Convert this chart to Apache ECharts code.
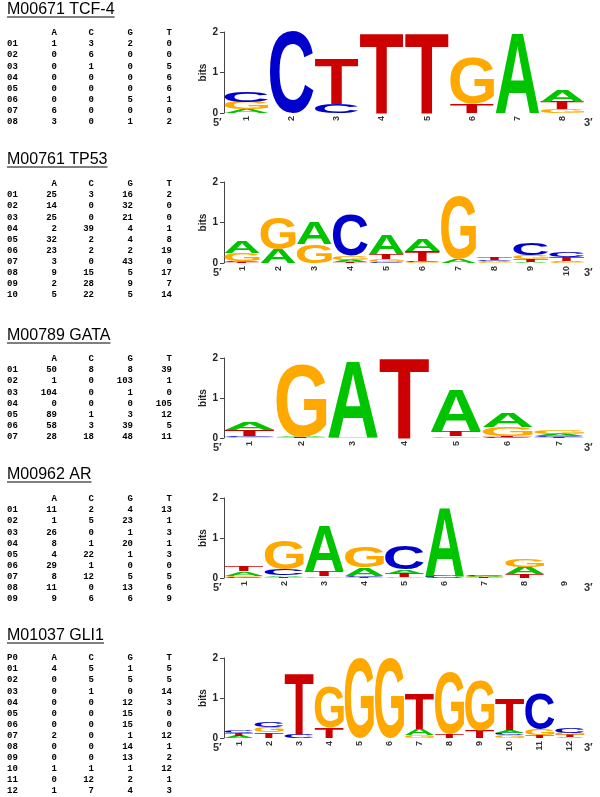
<!DOCTYPE html>
<html><head><meta charset="utf-8">
<script src="https://cdn.jsdelivr.net/npm/echarts@6/dist/echarts.min.js"></script>
<style>html,body{margin:0;padding:0;background:#fff}#c{width:600px;height:797px}</style>
</head><body><div id="c"></div>
<script>
// ---------------- DATA ----------------
const titles = ['M00671 TCF-4', 'M00761 TP53', 'M00789 GATA', 'M00962 AR', 'M01037 GLI1'];
const bases = ['A', 'C', 'G', 'T'];
const cornerLabels = ['', '', '', '', 'P0'];
const bitTicks = [0, 1, 2];

const tcf4Counts = [[1,3,2,0],[0,6,0,0],[0,1,0,5],[0,0,0,6],[0,0,0,6],[0,0,5,1],[6,0,0,0],[3,0,1,2]];
const tp53Counts = [[25,3,16,2],[14,0,32,0],[25,0,21,0],[2,39,4,1],[32,2,4,8],[23,2,2,19],[3,0,43,0],[9,15,5,17],[2,28,9,7],[5,22,5,14]];
const gataCounts = [[50,8,8,39],[1,0,103,1],[104,0,1,0],[0,0,0,105],[89,1,3,12],[58,3,39,5],[28,18,48,11]];
const arCounts = [[11,2,4,13],[1,5,23,1],[26,0,1,3],[8,1,20,1],[4,22,1,3],[29,1,0,0],[8,12,5,5],[11,0,13,6],[9,6,6,9]];
const gli1Counts = [[4,5,1,5],[0,5,5,5],[0,1,0,14],[0,0,12,3],[0,0,15,0],[0,0,15,0],[2,0,1,12],[0,0,14,1],[0,0,13,2],[1,1,1,12],[0,12,2,1],[1,7,4,3]];

const allCounts = [tcf4Counts, tp53Counts, gataCounts, arCounts, gli1Counts];

// ---------------- STYLE / LAYOUT ----------------
const baseColors = {A: '#00c400', C: '#0000cc', G: '#ffa800', T: '#cc0000'};
const layout = [
  {titleBase: 15,  headY: 33,  gridTop: 32,  gridH: 81},
  {titleBase: 165, headY: 184, gridTop: 182, gridH: 81},
  {titleBase: 341, headY: 359, gridTop: 358, gridH: 80},
  {titleBase: 480, headY: 499, gridTop: 498, gridH: 80},
  {titleBase: 641, headY: 658, gridTop: 658, gridH: 80}
];
const rowStep = 11.1;
const colRight = [57, 94, 133, 172];
const GRID_LEFT = 224, GRID_RIGHT = 15;

const LOGO_FONT = 'bold 100px "Liberation Sans"';
const TITLE_FONT = '16px "Liberation Sans"';
const MONO_FONT = 'bold 9px "Liberation Mono"';

// glyph ink metrics (relative to left/middle anchor)
const mctx = document.createElement('canvas').getContext('2d');
mctx.font = LOGO_FONT; mctx.textBaseline = 'middle'; mctx.textAlign = 'left';
const glyph = {};
bases.forEach(b => {
  const m = mctx.measureText(b);
  glyph[b] = {l: m.actualBoundingBoxLeft, r: m.actualBoundingBoxRight, a: m.actualBoundingBoxAscent, d: m.actualBoundingBoxDescent};
});

// information-content stacks from the counts
function buildStacks(counts) {
  return counts.map(row => {
    const n = row.reduce((s, v) => s + v, 0);
    const f = row.map(v => v / n);
    let H = 0; f.forEach(p => { if (p > 0) H -= p * Math.log2(p); });
    const ic = 2 - H;
    const items = [3, 2, 1, 0].map(k => ({b: bases[k], h: f[k] * ic}));
    items.sort((x, y) => x.h - y.h);
    return items;
  });
}
const allStacks = allCounts.map(buildStacks);

function makeRender(stacks) {
  return function (params, api) {
    const idx = api.value(0);
    const st = stacks[idx];
    const bw = api.size([1, 0])[0];
    const c0 = api.coord([idx, 0]);
    const pad = bw * 0.015;
    const x0 = c0[0] - bw / 2 + pad, w = bw - 2 * pad;
    let cum = 0;
    const children = [];
    st.forEach(it => {
      const yb = api.coord([idx, cum])[1];
      const yt = api.coord([idx, cum + it.h])[1];
      cum += it.h;
      const h = yb - yt;
      if (h < 0.3) return;
      const g = glyph[it.b];
      const sx = w / (g.l + g.r), sy = h / (g.a + g.d);
      children.push({
        type: 'text',
        x: x0 + g.l * sx, y: yt + g.a * sy,
        scaleX: sx, scaleY: sy,
        silent: true,
        style: {text: it.b, font: LOGO_FONT, fill: baseColors[it.b],
                align: 'left', verticalAlign: 'middle', textAlign: 'left', textVerticalAlign: 'middle'}
      });
    });
    return {type: 'group', children};
  };
}

// ---------------- OPTION ----------------
const grid = [], xAxis = [], yAxis = [], series = [], graphic = [];
function measure(font, txt) { mctx.font = font; return mctx.measureText(txt).width; }

allCounts.forEach((counts, p) => {
  const L = layout[p];
  grid.push({left: GRID_LEFT, right: GRID_RIGHT, top: L.gridTop, height: L.gridH});
  xAxis.push({
    gridIndex: p, type: 'category', data: counts.map((_, i) => String(i + 1)),
    axisLine: {show: false}, axisTick: {show: false}, splitLine: {show: false},
    axisLabel: {rotate: 90, fontSize: 9, fontWeight: 'bold', color: '#333', margin: 3, fontFamily: 'Liberation Sans'}
  });
  yAxis.push({
    gridIndex: p, type: 'value', min: bitTicks[0], max: bitTicks[bitTicks.length - 1], interval: 1,
    axisLine: {show: true, lineStyle: {color: '#444', width: 1}},
    axisTick: {show: true, length: 4, lineStyle: {color: '#444'}},
    splitLine: {show: false},
    axisLabel: {fontSize: 10, fontWeight: 'bold', color: '#222', margin: 6, fontFamily: 'Liberation Sans'},
    name: 'bits', nameLocation: 'middle', nameGap: 16, nameRotate: 90, nameMoveOverlap: false,
    nameTextStyle: {fontSize: 10, fontWeight: 'bold', color: '#222', fontFamily: 'Liberation Sans'}
  });
  series.push({
    type: 'custom', xAxisIndex: p, yAxisIndex: p,
    data: counts.map((_, i) => [i, 2]), encode: {x: 0, y: 1},
    renderItem: makeRender(allStacks[p]), silent: true, clip: false
  });

  // 5' / 3'
  const y0 = L.gridTop + L.gridH;
  graphic.push({type: 'text', x: 213, y: y0 + 10, silent: true,
    style: {text: "5\u2032", font: 'bold 11px "Liberation Sans"', fill: '#333', align: 'left', verticalAlign: 'middle', textAlign: 'left', textVerticalAlign: 'middle'}});
  graphic.push({type: 'text', x: 584, y: y0 + 10, silent: true,
    style: {text: "3\u2032", font: 'bold 11px "Liberation Sans"', fill: '#333', align: 'left', verticalAlign: 'middle', textAlign: 'left', textVerticalAlign: 'middle'}});

  // title + underline
  graphic.push({type: 'text', x: 7, y: L.titleBase - 5.7, silent: true,
    style: {text: titles[p], font: TITLE_FONT, fill: '#000', align: 'left', verticalAlign: 'middle', textAlign: 'left', textVerticalAlign: 'middle'}});
  const tw = measure(TITLE_FONT, titles[p]);
  graphic.push({type: 'line', silent: true, shape: {x1: 7, y1: L.titleBase + 2, x2: 7 + tw, y2: L.titleBase + 2},
    style: {stroke: '#000', lineWidth: 1}});

  // matrix header
  const monoStyle = (txt, align) => ({text: txt, font: MONO_FONT, fill: '#000', align, verticalAlign: 'middle', textAlign: align, textVerticalAlign: 'middle'});
  if (cornerLabels[p]) graphic.push({type: 'text', x: 7, y: L.headY, silent: true, style: monoStyle(cornerLabels[p], 'left')});
  bases.forEach((b, k) => graphic.push({type: 'text', x: colRight[k], y: L.headY, silent: true, style: monoStyle(b, 'right')}));
  counts.forEach((row, i) => {
    const yy = L.headY + rowStep * (i + 1);
    graphic.push({type: 'text', x: 7, y: yy, silent: true, style: monoStyle(String(i + 1).padStart(2, '0'), 'left')});
    row.forEach((v, k) => graphic.push({type: 'text', x: colRight[k], y: yy, silent: true, style: monoStyle(String(v), 'right')}));
  });
});

const chart = echarts.init(document.getElementById('c'), null, {renderer: 'canvas'});
chart.setOption({animation: false, backgroundColor: '#fff', grid, xAxis, yAxis, series, graphic});
</script></body></html>
